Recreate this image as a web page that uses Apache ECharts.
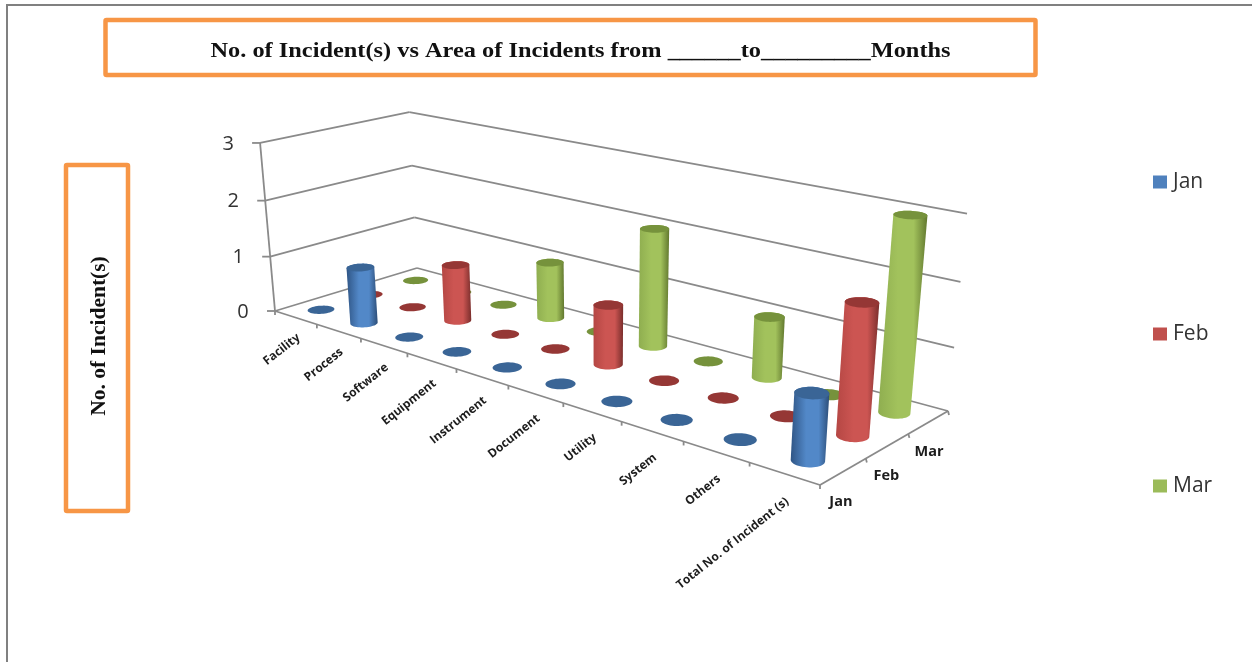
<!DOCTYPE html>
<html>
<head>
<meta charset="utf-8">
<style>html,body{margin:0;padding:0;background:#fff}#chart{width:1252px;height:662px}</style>
<script src="https://cdn.jsdelivr.net/npm/echarts@6/dist/echarts.min.js"></script>
</head>
<body>
<div id="chart"></div>
<script>
// Incident counts per area and month
const categories = ['Facility','Process','Software','Equipment','Instrument','Document','Utility','System','Others','Total No. of Incident (s)'];
const months = ['Jan','Feb','Mar'];
const jan = [0,1,0,0,0,0,0,0,0,1];
const feb = [0,0,1,0,0,1,0,0,0,2];
const mar = [0,0,0,1,0,2,0,1,0,3];
const valueTicks = [0,1,2,3];
const chartTitle = 'No. of Incident(s) vs Area of Incidents from ______to_________Months';
const valueTitle = 'No. of Incident(s)';

const palette = {
  Jan: {cap:'#3A6596', edge:'#2F5585', mid:'#5288C8', shade:'#2D4E78', legend:'#4F81BD'},
  Feb: {cap:'#953735', edge:'#B54744', mid:'#CC5552', shade:'#7A2E2C', legend:'#C0504D'},
  Mar: {cap:'#76923C', edge:'#8FAE50', mid:'#A2C25C', shade:'#62782F', legend:'#9BBB59'}
};

// Perspective camera for the chart box: floor corners plus the vanishing point of its verticals
const floor = {left:[275,311], front:[820,485], right:[948,411], back:[417,268]};
const vertical = {vp:[602,3997], scale:-0.0436};

const cam = (function () {
  const [x0,y0] = floor.left, [x1,y1] = floor.front, [x2,y2] = floor.right, [x3,y3] = floor.back;
  const dx1 = x1-x2, dx2 = x3-x2, sx = x0-x1+x2-x3;
  const dy1 = y1-y2, dy2 = y3-y2, sy = y0-y1+y2-y3;
  const den = dx1*dy2-dx2*dy1;
  const g = (sx*dy2-dx2*sy)/den, h = (dx1*sy-sx*dy1)/den;
  return {a:x1-x0+g*x1, b:x3-x0+h*x3, c:x0, d:y1-y0+g*y1, e:y3-y0+h*y3, f:y0, g, h};
})();

// u runs along the categories, v into the months, t up the value axis (all 0..1)
function project(u, v, t) {
  const s = vertical.scale*t;
  const w = cam.g*u + cam.h*v + 1 + s;
  return [(cam.a*u + cam.b*v + cam.c + s*vertical.vp[0])/w,
          (cam.d*u + cam.e*v + cam.f + s*vertical.vp[1])/w];
}

function hull(points) {
  const p = points.slice().sort((m,n) => m[0]-n[0] || m[1]-n[1]);
  const cross = (o,m,n) => (m[0]-o[0])*(n[1]-o[1])-(m[1]-o[1])*(n[0]-o[0]);
  const lo = [], up = [];
  p.forEach(q => { while (lo.length>1 && cross(lo[lo.length-2],lo[lo.length-1],q)<=0) lo.pop(); lo.push(q); });
  p.slice().reverse().forEach(q => { while (up.length>1 && cross(up[up.length-2],up[up.length-1],q)<=0) up.pop(); up.push(q); });
  return lo.slice(0,-1).concat(up.slice(0,-1));
}

const RADIUS = 0.205;
function ring(u, v, t) {
  const pts = [];
  for (let k = 0; k < 48; k++) {
    const a = k/48*Math.PI*2;
    pts.push(project(u + Math.cos(a)*RADIUS/categories.length, v + Math.sin(a)*RADIUS/months.length, t));
  }
  return pts;
}

function cylinder(month) {
  const col = palette[month];
  const v = (months.indexOf(month)+0.5)/months.length;
  return function (params, api) {
    const box = params.coordSys;
    const at = api.coord([api.value(0), api.value(1)]);
    const u = (at[0]-box.x)/box.width;
    const t = (box.y+box.height-at[1])/box.height;
    const base = ring(u, v, 0);
    const poly = (pts, fill) => ({type:'polygon', shape:{points:pts}, style:{fill}});
    if (api.value(1) === 0) return poly(base, col.cap);
    const top = ring(u, v, t);
    const body = new echarts.graphic.LinearGradient(0,0,1,0,[
      {offset:0, color:col.edge},{offset:0.4, color:col.mid},{offset:0.72, color:col.mid},{offset:1, color:col.shade}
    ]);
    return {type:'group', children:[poly(hull(base.concat(top)), body), poly(top, col.cap)]};
  };
}

// Walls, floor edges, ticks and the projected axis labels
function frame3d(params, api) {
  const box = params.coordSys;
  const line = (a,b) => ({type:'line', shape:{x1:a[0],y1:a[1],x2:b[0],y2:b[1]}, style:{stroke:'#8A8A8A', lineWidth:1.8}});
  const text = (str,x,y,font,align,rot,fill) => ({type:'text', x, y, rotation:rot||0,
    style:{text:str, fill:fill||'#1c1c1c', font, align, verticalAlign:'middle'}});
  const kids = [];
  valueTicks.forEach(tick => {
    const t = (box.y+box.height-api.coord([0,tick])[1])/box.height;
    const l = project(0,0,t), b = project(0,1,t), r = project(1,1,t);
    kids.push(line(l,b), line(b,r), line([l[0]-8,l[1]],l));
    kids.push(text(String(tick), l[0]-32, l[1]+1, '20px "Open Sans"', 'center', 0, '#333'));
  });
  kids.push(line(project(0,0,0), project(0,0,1)));
  kids.push(line(project(0,0,0), project(1,0,0)), line(project(1,0,0), project(1,1,0)));
  categories.forEach((name,i) => {
    const tickPt = project(i/categories.length,0,0);
    kids.push(line(tickPt,[tickPt[0],tickPt[1]+4]));
    const mid = (i+0.5)/categories.length, p = project(mid,0,0);
    kids.push(text(name, p[0]+3, p[1]+18+9*mid, 'bold 12px "Open Sans"', 'right', 0.67));
  });
  const corner = project(1,0,0);
  kids.push(line(corner,[corner[0],corner[1]+4]));
  months.forEach((name,j) => {
    const e = project(1,(j+1)/months.length,0);
    kids.push(line(e,[e[0]+1,e[1]+4]));
    const p = project(1,(j+0.5)/months.length,0);
    kids.push(text(name, p[0]-14, p[1]+30, 'bold 14.5px "Open Sans"', 'left'));
  });
  return {type:'group', children:kids};
}

const rows = {Jan:jan, Feb:feb, Mar:mar};
const chart = echarts.init(document.getElementById('chart'));
chart.setOption({
  animation:false,
  backgroundColor:'#fff',
  legend:{
    orient:'vertical', left:1153, top:171, padding:0, itemWidth:14, itemHeight:13, itemGap:130,
    icon:'rect', data:months,
    textStyle:{fontFamily:'"Open Sans"', fontSize:21, color:'#333', lineHeight:22, padding:[0,0,0,1]}
  },
  graphic:[
    {type:'rect', z:-1, shape:{x:7,y:5,width:1300,height:700}, style:{fill:'#fff',stroke:'#808080',lineWidth:2}},
    {type:'rect', z:-1, shape:{x:105.5,y:20,width:930,height:55,r:1}, style:{fill:'#fff',stroke:'#F79646',lineWidth:4.5}},
    {type:'rect', z:-1, shape:{x:66,y:165,width:62,height:346,r:1}, style:{fill:'#fff',stroke:'#F79646',lineWidth:4.5}},
    {type:'text', x:580.5, y:52, scaleX:1.16,
      style:{text:chartTitle, fill:'#111', font:'bold 21px "Liberation Serif"', align:'center', verticalAlign:'middle'}},
    {type:'text', x:99, y:336, rotation:Math.PI/2,
      style:{text:valueTitle, fill:'#111', font:'bold 21.5px "Liberation Serif"', align:'center', verticalAlign:'middle'}}
  ],
  grid:{left:300, top:200, width:500, height:200},
  xAxis:{type:'category', data:categories, show:false},
  yAxis:{type:'value', min:0, max:3, interval:1, show:false},
  series:[
    {type:'custom', name:'Axes', data:[[0,0]], renderItem:frame3d, silent:true, z:2},
    ...['Mar','Feb','Jan'].map((m,k) => ({
      type:'custom', name:m, z:3+k, silent:true,
      itemStyle:{color:palette[m].legend},
      data:rows[m].map((val,i) => [categories[i], val]),
      encode:{x:0,y:1},
      renderItem:cylinder(m)
    }))
  ]
});
</script>
</body>
</html>
